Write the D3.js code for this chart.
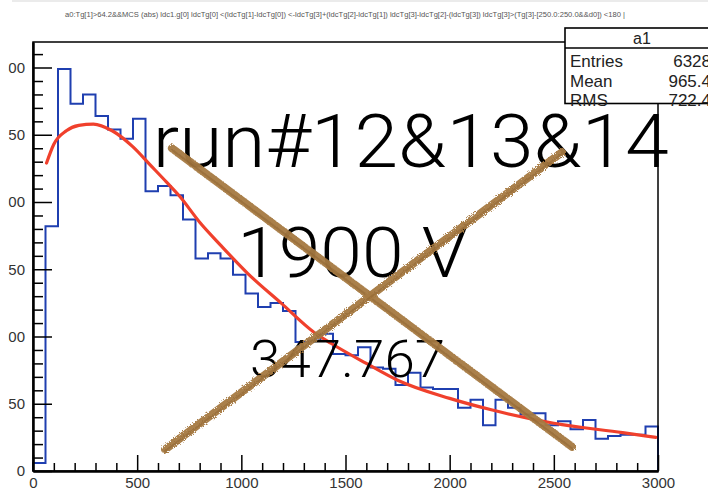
<!DOCTYPE html>
<html><head><meta charset="utf-8">
<script src="https://cdn.jsdelivr.net/npm/d3@7"></script>
<style>body{margin:0;background:#fff;overflow:hidden}</style>
</head><body>
<svg id="c" width="708" height="493" xmlns="http://www.w3.org/2000/svg"></svg>
<script>
// ---- data ----
const binStarts = [0,60,120,180,240,300,360,420,480,540,600,660,720,780,840,900,960,1020,1080,1140,
  1200,1260,1320,1380,1440,1500,1560,1620,1680,1740,1800,1860,1920,1980,2040,2100,2160,2220,2280,2340,
  2400,2460,2520,2580,2640,2700,2760,2820,2880,2940];
const binWidth = 60;
const counts = [6,182,299,273,280,264,254,247,262,208,212,205,187,158,162,158,146,132,122,125,
  119,96,97,102,87,86,92,77,76,64,73,62,61,61,47,53,34,53,47,42,
  43,34,37,31,38,24,26,27,27,33];
const fitX = [65,100,160,220,290,380,480,560,640,700,800,900,1030,1190,1350,1430,1600,1750,2000,2200,2500,2830,2990];
const fitY = [229,243,253,257,258,253,241,228,215,205,185,168,147,125,103,95,80,67.5,54,45.5,35.5,28.5,25];
const xMajor = [0,500,1000,1500,2000,2500,3000];
const xMinor = [100,200,300,400,600,700,800,900,1100,1200,1300,1400,1600,1700,1800,1900,2100,2200,2300,2400,2600,2700,2800,2900];
const yMajor = [0,50,100,150,200,250,300];
const yMinor = [10,20,30,40,60,70,80,90,110,120,130,140,160,170,180,190,210,220,230,240,260,270,280,290,310];
const statsLabels = ["Entries","Mean","RMS"];
const statsValues = ["6328","965.4","722.4"];
const histName = "a1";
const titleText = "a0:Tg[1]>64.2&&MCS (abs) ldc1.g[0] ldcTg[0] <(ldcTg[1]-ldcTg[0]) <-ldcTg[3]+(ldcTg[2]-ldcTg[1]) ldcTg[3]-ldcTg[2]-(ldcTg[3]) ldcTg[3]>(Tg[3]-[250.0:250.0&&d0]) <180 |";
const overlayTexts = [
  {text:"run#12&13&14", x:575, y:226},
  {text:"1900 V", x:980, y:144},
  {text:"347.767", x:1042, y:70}
];
const crossLines = [
  {x1:667, y1:240, x2:2587, y2:18},
  {x1:634, y1:16, x2:2539, y2:237}
];

// ---- layout ----
const svg = d3.select("#c");
const L = 33, R = 658, T = 42, B = 471;
const x = d3.scaleLinear().domain([0,3000]).range([L,R]);
const y = d3.scaleLinear().domain([0,319]).range([B,T]);
const font = "'Liberation Sans', Arial, Helvetica, sans-serif";

// filter for crayon texture
const defs = svg.append("defs");
const f = defs.append("filter").attr("id","rough").attr("x","-10%").attr("y","-10%").attr("width","120%").attr("height","120%");
f.append("feTurbulence").attr("type","fractalNoise").attr("baseFrequency","0.9").attr("numOctaves","2").attr("seed","3").attr("result","n");
f.append("feDisplacementMap").attr("in","SourceGraphic").attr("in2","n").attr("scale","3.5");
defs.append("clipPath").attr("id","ylabclip").append("rect").attr("x",8.5).attr("y",0).attr("width",700).attr("height",493);

// faint top line
svg.append("line").attr("x1",12).attr("x2",708).attr("y1",1).attr("y2",1).attr("stroke","#e4e4e4").attr("stroke-width",1.5);

// title
svg.append("text").attr("x",65).attr("y",17).attr("font-family",font).attr("font-size",7)
  .attr("fill","#555").attr("textLength",560).attr("lengthAdjust","spacingAndGlyphs").text(titleText);

// histogram step outline
const pts = [[x(binStarts[0]), y(0)]];
binStarts.forEach((s,i)=>{
  pts.push([x(s), y(counts[i])]);
  pts.push([x(s+binWidth), y(counts[i])]);
});
pts.push([x(binStarts[binStarts.length-1]+binWidth), y(0)]);
svg.append("path").attr("d", d3.line()(pts)).attr("fill","none")
  .attr("stroke","#1f3fb0").attr("stroke-width",2).attr("stroke-linejoin","miter");

// fit curve
const fitPts = fitX.map((v,i)=>[v,fitY[i]]);
svg.append("path").attr("d", d3.line().x(d=>x(d[0])).y(d=>y(d[1])).curve(d3.curveMonotoneX)(fitPts))
  .attr("fill","none").attr("stroke","#f0402c").attr("stroke-width",3.2).attr("stroke-linecap","round");

// frame
svg.append("rect").attr("x",L).attr("y",T).attr("width",R-L).attr("height",B-T)
  .attr("fill","none").attr("stroke","#000").attr("stroke-width",1.5);

// x axis
const gx = svg.append("g").attr("transform",`translate(0,${B})`);
gx.call(d3.axisBottom(x).tickValues(xMajor).tickSizeInner(-16).tickSizeOuter(0).tickPadding(24).tickFormat(d3.format("d")));
const gxm = svg.append("g").attr("transform",`translate(0,${B})`);
gxm.call(d3.axisBottom(x).tickValues(xMinor).tickSizeInner(-8).tickSizeOuter(0).tickFormat(""));
[gx,gxm].forEach(g=>{
  g.select(".domain").attr("stroke","#000").attr("stroke-width",2);
  g.selectAll(".tick line").attr("stroke","#000").attr("stroke-width",1.5);
});
gx.selectAll(".tick text").attr("font-family",font).attr("font-size",15).attr("fill","#333").attr("dy","0");
gx.selectAll(".tick text").attr("y",17);

// y axis
const gyOuter = svg.append("g").attr("clip-path","url(#ylabclip)");
const gy = gyOuter.append("g").attr("transform",`translate(${L},0)`);
gy.call(d3.axisLeft(y).tickValues(yMajor).tickSizeInner(-19).tickSizeOuter(0).tickPadding(8).tickFormat(d3.format("d")));
const gym = svg.append("g").attr("transform",`translate(${L},0)`);
gym.call(d3.axisLeft(y).tickValues(yMinor).tickSizeInner(-10).tickSizeOuter(0).tickFormat(""));
[gy,gym].forEach(g=>{
  g.select(".domain").attr("stroke","#000").attr("stroke-width",2);
  g.selectAll(".tick line").attr("stroke","#000").attr("stroke-width",1.5);
});
gy.selectAll(".tick text").attr("font-family",font).attr("font-size",15).attr("fill","#333");

// stats box
const sb = svg.append("g");
sb.append("rect").attr("x",565).attr("y",28).attr("width",170).attr("height",75.5)
  .attr("fill","#fff").attr("stroke","#000").attr("stroke-width",1.6);
sb.append("line").attr("x1",565).attr("x2",708).attr("y1",48).attr("y2",48).attr("stroke","#000").attr("stroke-width",1.6);
sb.append("text").attr("x",642).attr("y",44).attr("text-anchor","middle").attr("font-family",font)
  .attr("font-size",16).attr("fill","#222").text(histName);
statsLabels.forEach((l,i)=>{
  sb.append("text").attr("x",570).attr("y",67+i*19.5).attr("font-family",font).attr("font-size",17)
    .attr("fill","#222").text(l);
  sb.append("text").attr("x",711).attr("y",67+i*19.5).attr("text-anchor","end").attr("font-family",font)
    .attr("font-size",17).attr("fill","#222").text(statsValues[i]);
});

// overlay texts
const sizes = [75,71,52];
const lens = [516,231,195];
overlayTexts.forEach((t,i)=>{
  svg.append("text").attr("x",x(t.x)).attr("y",y(t.y)).attr("font-family","Roboto, 'Liberation Sans', sans-serif")
    .attr("font-weight",300).attr("font-size",sizes[i]).attr("fill","#000")
    .attr("textLength",lens[i]).attr("lengthAdjust","spacingAndGlyphs").text(t.text);
});

// brown crossing strokes
const cl = svg.append("g").attr("filter","url(#rough)");
crossLines.forEach(c=>{
  cl.append("line").attr("x1",x(c.x1)).attr("y1",y(c.y1)).attr("x2",x(c.x2)).attr("y2",y(c.y2))
    .attr("stroke","#a67a42").attr("stroke-width",8).attr("stroke-linecap","round").attr("opacity",0.95);
  cl.append("line").attr("x1",x(c.x1)).attr("y1",y(c.y1)+1.5).attr("x2",x(c.x2)).attr("y2",y(c.y2)+1.5)
    .attr("stroke","#8f6530").attr("stroke-width",2).attr("stroke-linecap","round").attr("opacity",0.5);
});
</script>
</body></html>
